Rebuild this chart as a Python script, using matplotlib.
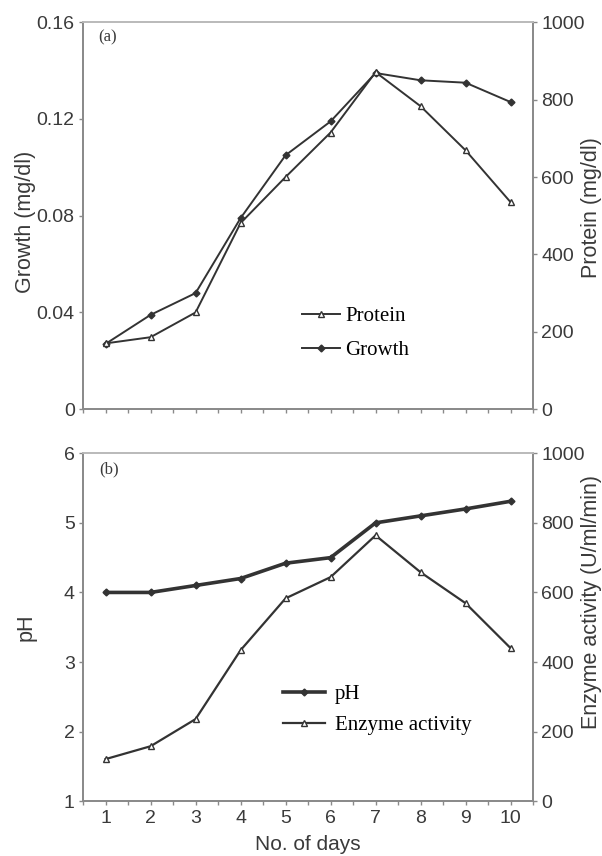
import matplotlib
matplotlib.use("Agg")
import matplotlib.pyplot as plt
from matplotlib.ticker import MultipleLocator

days = [1, 2, 3, 4, 5, 6, 7, 8, 9, 10]

# panel (a)
growth = [0.027, 0.039, 0.048, 0.079, 0.105, 0.119, 0.139, 0.136, 0.135, 0.127]
protein = [170, 186, 250, 481, 600, 715, 871, 783, 669, 535]

# panel (b)
ph = [4.0, 4.0, 4.1, 4.2, 4.42, 4.5, 5.0, 5.1, 5.2, 5.31]
enzyme = [121, 158, 236, 434, 583, 644, 764, 658, 569, 440]

growth_ticks = [0, 0.04, 0.08, 0.12, 0.16]
growth_labels = ["0", "0.04", "0.08", "0.12", "0.16"]

plt.rcParams["font.family"] = ["Liberation Sans", "DejaVu Sans"]
line_col = "#333333"
spine_col = "#8a8a8a"
txt_col = "#3a3a3a"

fig = plt.figure(figsize=(6.02, 8.56), dpi=100)
ax1 = fig.add_axes([0.138, 0.522, 0.7475, 0.452])
ax2 = fig.add_axes([0.138, 0.064, 0.7475, 0.4065])


def style(ax, twin):
    for a in (ax, twin):
        for s in a.spines.values():
            s.set_color(spine_col)
            s.set_linewidth(1.3)
        a.spines["top"].set_color("#bbbbbb")
        a.tick_params(direction="out", length=3, width=1, colors=spine_col,
                      labelcolor=txt_col, labelsize=14, pad=3)
    ax.set_xlim(0.5, 10.5)
    ax.xaxis.set_major_locator(MultipleLocator(1))
    ax.xaxis.set_minor_locator(MultipleLocator(0.5))
    ax.tick_params(axis="x", which="minor", direction="out", length=3,
                   width=1, colors=spine_col)


# ---- top panel
tw1 = ax1.twinx()
lp, = tw1.plot(days, protein, color=line_col, lw=1.4, marker="^", ms=5,
               mfc="white", mec=line_col, mew=1)
lg, = ax1.plot(days, growth, color=line_col, lw=1.4, marker="D", ms=3.5,
               mfc=line_col, mec=line_col)
ax1.set_ylim(0, 0.16)
ax1.set_yticks(growth_ticks)
ax1.set_yticklabels(growth_labels)
tw1.set_ylim(0, 1000)
tw1.set_yticks([0, 200, 400, 600, 800, 1000])
style(ax1, tw1)
ax1.tick_params(axis="x", labelbottom=False)
ax1.set_ylabel("Growth (mg/dl)", fontsize=15.5, color=txt_col)
ax1.yaxis.set_label_coords(-0.104, 0.483)
tw1.set_ylabel("Protein (mg/dl)", fontsize=15.5, color=txt_col)
tw1.yaxis.set_label_coords(1.107, 0.522)
ax1.text(0.033, 0.981, "(a)", transform=ax1.transAxes, fontsize=12,
         family="Liberation Serif", va="top", color=txt_col)
ax1.legend([lp, lg], ["Protein", "Growth"], loc="center left",
           bbox_to_anchor=(0.487, 0.196), frameon=False, borderpad=0,
           borderaxespad=0, handlelength=1.8, handletextpad=0.25,
           labelspacing=0.72,
           prop={"family": "Liberation Serif", "size": 15})

# ---- bottom panel
tw2 = ax2.twinx()
lph, = ax2.plot(days, ph, color=line_col, lw=2.6, marker="D", ms=3.5,
                mfc=line_col, mec=line_col)
le, = tw2.plot(days, enzyme, color=line_col, lw=1.6, marker="^", ms=5,
               mfc="white", mec=line_col, mew=1)
ax2.set_ylim(1, 6)
ax2.set_yticks([1, 2, 3, 4, 5, 6])
tw2.set_ylim(0, 1000)
tw2.set_yticks([0, 200, 400, 600, 800, 1000])
style(ax2, tw2)
ax2.set_xticks(days)
ax2.set_ylabel("pH", fontsize=15.5, color=txt_col)
ax2.yaxis.set_label_coords(-0.104, 0.5)
tw2.set_ylabel("Enzyme activity (U/ml/min)", fontsize=15.5, color=txt_col)
tw2.yaxis.set_label_coords(1.107, 0.572)
ax2.set_xlabel("No. of days", fontsize=15, color=txt_col)
ax2.xaxis.set_label_coords(0.5, -0.097)
ax2.text(0.035, 0.978, "(b)", transform=ax2.transAxes, fontsize=12,
         family="Liberation Serif", va="top", color=txt_col)
ax2.legend([lph, le], ["pH", "Enzyme activity"], loc="center left",
           bbox_to_anchor=(0.444, 0.262), frameon=False, borderpad=0,
           borderaxespad=0, handlelength=2.0, handletextpad=0.5,
           labelspacing=0.55,
           prop={"family": "Liberation Serif", "size": 15})

fig.savefig("out.png", dpi=100)
